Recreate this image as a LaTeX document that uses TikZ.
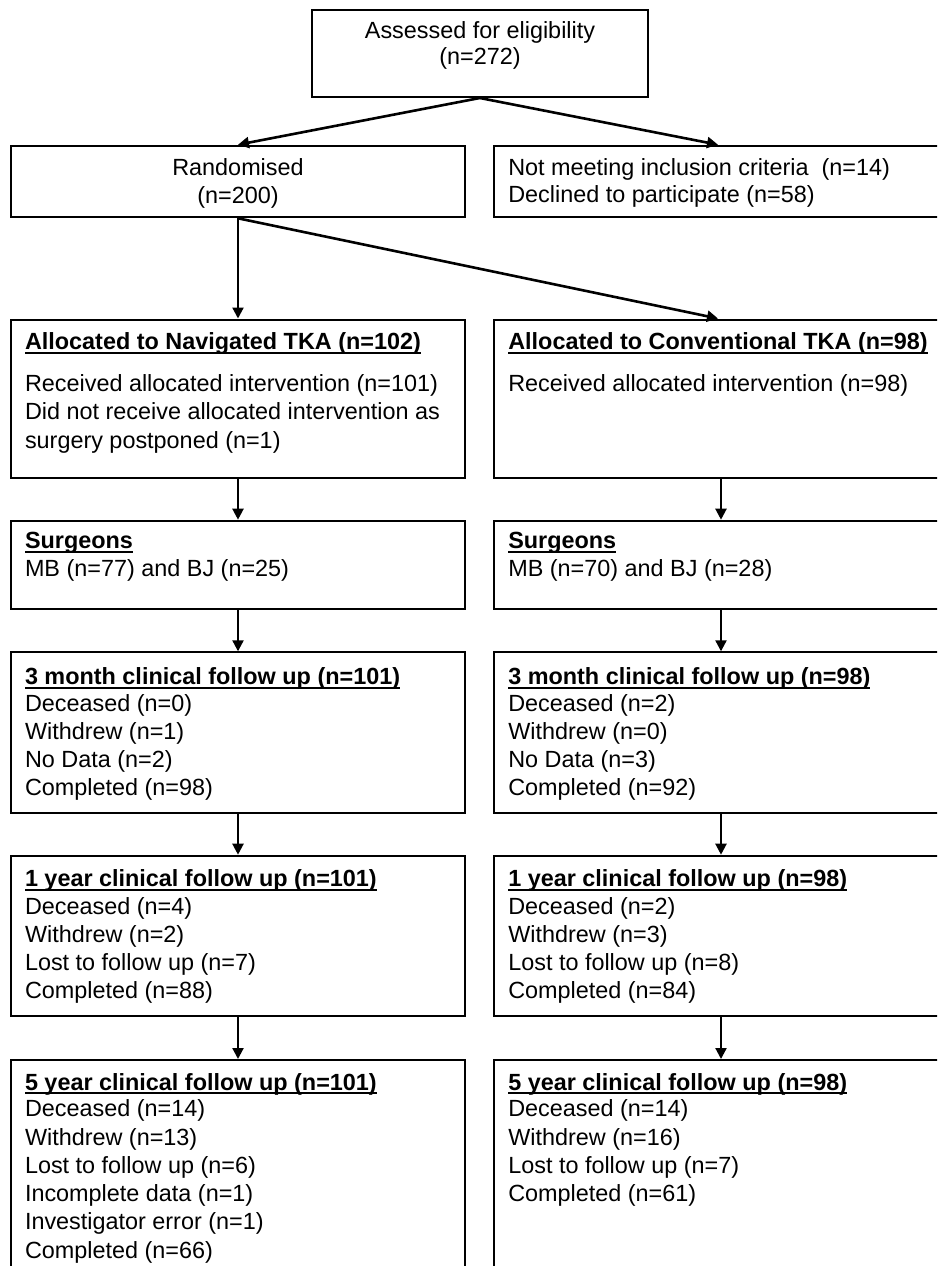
\documentclass[tikz,border=0pt]{standalone}
\usepackage{fontspec}
\setmainfont{Liberation Sans}
\usetikzlibrary{arrows.meta}
\newcommand\ulb[1]{\setbox0=\hbox{\bfseries #1}\rlap{\rule[-4.3pt]{\wd0}{2pt}}\box0}
\tikzset{
  box/.style={draw=black, line width=2pt, rectangle, inner sep=0pt},
  txt/.style={inner sep=0pt, outer sep=0pt, font=\fontsize{23.4}{28}\selectfont},
  arr/.style={line width=2.2pt, -{Triangle[length=11pt,width=11pt]}},
  darr/.style={arr, line width=2.6pt},
}
\begin{document}
\begin{tikzpicture}[x=1pt,y=-1pt]
\useasboundingbox (0,0) rectangle (937,1266);
\clip (0,0) rectangle (937,1266);
% boxes
\node[box, minimum width=336.3pt, minimum height=87pt] (top) at (479.85,53.5) {};
\node[box, minimum width=454pt, minimum height=71.6pt] (rand) at (238,181.5) {};
\node[box, minimum width=454pt, minimum height=71.6pt] (excl) at (721,181.5) {};
\node[box, minimum width=454pt, minimum height=158.2pt] (nav) at (238,398.6) {};
\node[box, minimum width=454pt, minimum height=158.2pt] (conv) at (721,398.6) {};
\node[box, minimum width=454pt, minimum height=88.6pt] (surgL) at (238,565) {};
\node[box, minimum width=454pt, minimum height=88.6pt] (surgR) at (721,565) {};
\node[box, minimum width=454pt, minimum height=160.4pt] (m3L) at (238,732.5) {};
\node[box, minimum width=454pt, minimum height=160.4pt] (m3R) at (721,732.5) {};
\node[box, minimum width=454pt, minimum height=160pt] (y1L) at (238,935.7) {};
\node[box, minimum width=454pt, minimum height=160pt] (y1R) at (721,935.7) {};
\node[box, minimum width=454pt, minimum height=240pt] (y5L) at (238,1180) {};
\node[box, minimum width=454pt, minimum height=240pt] (y5R) at (721,1180) {};
% texts
\node[txt, anchor=base] (t-top1) at (480,38.3) {Assessed for eligibility};
\node[txt, anchor=base] (t-top2) at (480,64.5) {(n=272)};
\node[txt, anchor=base] (t-rand1) at (238,175) {Randomised};
\node[txt, anchor=base] (t-rand2) at (238,203.5) {(n=200)};
\node[txt, anchor=base west] (t-excl1) at (508.3,175) {Not meeting inclusion criteria\ \ (n=14)};
\node[txt, anchor=base west] (t-excl2) at (508.3,202) {Declined to participate (n=58)};
% allocation
\node[txt, anchor=base west] (t-nav0) at (25,349.3) {\ulb{Allocated to Navigated TKA (n=102)}};
\node[txt, anchor=base west] (t-nav1) at (25,391) {Received allocated intervention (n=101)};
\node[txt, anchor=base west] (t-nav2) at (25,419.5) {Did not receive allocated intervention as};
\node[txt, anchor=base west] (t-nav3) at (25,448) {surgery postponed (n=1)};
\node[txt, anchor=base west] (t-conv0) at (508.3,349.3) {\ulb{Allocated to Conventional TKA (n=98)}};
\node[txt, anchor=base west] (t-conv1) at (508.3,391) {Received allocated intervention (n=98)};
% surgeons
\node[txt, anchor=base west] (t-sL0) at (25,548.3) {\ulb{Surgeons}};
\node[txt, anchor=base west] (t-sL1) at (25,576.5) {MB (n=77) and BJ (n=25)};
\node[txt, anchor=base west] (t-sR0) at (508.3,548.3) {\ulb{Surgeons}};
\node[txt, anchor=base west] (t-sR1) at (508.3,576.5) {MB (n=70) and BJ (n=28)};
% 3 month
\node[txt, anchor=base west] (t-m3L0) at (25,684.3) {\ulb{3 month clinical follow up (n=101)}};
\foreach \t [count=\i] in {Deceased (n=0), Withdrew (n=1), No Data (n=2), Completed (n=98)}
  \node[txt, anchor=base west] (t-m3L\i) at (25,{711+28.2*(\i-1)}) {\t};
\node[txt, anchor=base west] (t-m3R0) at (508.3,684.3) {\ulb{3 month clinical follow up (n=98)}};
\foreach \t [count=\i] in {Deceased (n=2), Withdrew (n=0), No Data (n=3), Completed (n=92)}
  \node[txt, anchor=base west] (t-m3R\i) at (508.3,{711+28.2*(\i-1)}) {\t};
% 1 year
\node[txt, anchor=base west] (t-y1L0) at (25,886.7) {\ulb{1 year clinical follow up (n=101)}};
\foreach \t [count=\i] in {Deceased (n=4), Withdrew (n=2), Lost to follow up (n=7), Completed (n=88)}
  \node[txt, anchor=base west] (t-y1L\i) at (25,{914+28.2*(\i-1)}) {\t};
\node[txt, anchor=base west] (t-y1R0) at (508.3,886.7) {\ulb{1 year clinical follow up (n=98)}};
\foreach \t [count=\i] in {Deceased (n=2), Withdrew (n=3), Lost to follow up (n=8), Completed (n=84)}
  \node[txt, anchor=base west] (t-y1R\i) at (508.3,{914+28.2*(\i-1)}) {\t};
% 5 year
\node[txt, anchor=base west] (t-y5L0) at (25,1090) {\ulb{5 year clinical follow up (n=101)}};
\foreach \t [count=\i] in {Deceased (n=14), Withdrew (n=13), Lost to follow up (n=6), Incomplete data (n=1), Investigator error (n=1), Completed (n=66)}
  \node[txt, anchor=base west] (t-y5L\i) at (25,{1116.7+28.3*(\i-1)}) {\t};
\node[txt, anchor=base west] (t-y5R0) at (508.3,1090) {\ulb{5 year clinical follow up (n=98)}};
\foreach \t [count=\i] in {Deceased (n=14), Withdrew (n=16), Lost to follow up (n=7), Completed (n=61)}
  \node[txt, anchor=base west] (t-y5R\i) at (508.3,{1116.7+28.3*(\i-1)}) {\t};
% arrows
\draw[darr] (top.south) -- (rand.north);
\draw[darr] (top.south) -- ([xshift=-3pt]excl.north);
\draw[arr] (rand.south) -- (nav.north);
\draw[darr] (rand.south) -- ([xshift=-3pt]conv.north);
\draw[arr] (nav.south) -- (surgL.north);
\draw[arr] (conv.south) -- (surgR.north);
\draw[arr] (surgL.south) -- (m3L.north);
\draw[arr] (surgR.south) -- (m3R.north);
\draw[arr] (m3L.south) -- (y1L.north);
\draw[arr] (m3R.south) -- (y1R.north);
\draw[arr] (y1L.south) -- (y5L.north);
\draw[arr] (y1R.south) -- (y5R.north);
\end{tikzpicture}
\end{document}
